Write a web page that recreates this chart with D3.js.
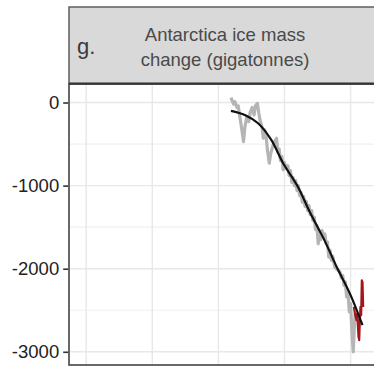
<!DOCTYPE html>
<html>
<head>
<meta charset="utf-8">
<script src="https://cdn.jsdelivr.net/npm/d3@7"></script>
<style>
  html, body { margin: 0; padding: 0; background: #fff; }
  svg { display: block; font-family: "Liberation Sans", Arial, sans-serif; }
</style>
</head>
<body>
<svg id="chart" width="374" height="367"></svg>
<script>
// Satellite record of Antarctic ice mass (Gt, relative)
const obsYears = [2001.9, 2002.1, 2002.3, 2002.5, 2002.8, 2003.0, 2003.2, 2003.5, 2003.8, 2004.0,
  2004.3, 2004.6, 2004.8, 2005.1, 2005.4, 2005.6, 2005.9, 2006.1, 2006.3, 2006.6,
  2006.8, 2007.0, 2007.2, 2007.4, 2007.7, 2007.9, 2008.2, 2008.5, 2008.8, 2009.0,
  2009.2, 2009.4, 2009.6, 2009.8, 2010.0, 2010.2, 2010.5, 2010.7, 2010.9, 2011.1,
  2011.3, 2011.5, 2011.7, 2011.9, 2012.1, 2012.3, 2012.5, 2012.7, 2012.9, 2013.1,
  2013.3, 2013.5, 2013.7, 2013.9, 2014.1, 2014.3, 2014.5, 2014.7, 2014.9, 2015.1,
  2015.3, 2015.5, 2015.7, 2015.9, 2016.1, 2016.3, 2016.5, 2016.7, 2016.9, 2017.1,
  2017.3, 2017.6, 2018.4, 2018.6, 2018.8, 2019.0, 2019.2, 2019.4, 2019.6, 2019.8,
  2020.0, 2020.2, 2020.4, 2020.6, 2020.7];
const obsValues = [60, 20, -20, 10, -60, -40, -150, -300, -470, -300,
  -170, -230, -120, -60, -150, -40, -10, -120, -210, -300,
  -430, -330, -380, -560, -730, -620, -530, -470, -430, -600,
  -560, -700, -650, -810, -720, -790, -760, -880, -820, -960,
  -900, -1000, -940, -1060, -1000, -1120, -1080, -1200, -1130, -1250,
  -1190, -1300, -1240, -1350, -1300, -1420, -1380, -1530, -1480, -1700,
  -1560, -1650, -1540, -1610, -1580, -1700, -1680, -1860, -1780, -1900,
  -1850, -1980, -2040, -2110, -2080, -2200, -2160, -2340, -2280, -2520,
  -2420, -2760, -3000, -2650, -2540];

// Most recent stretch of the record, highlighted
const recentYears = [2020.5, 2020.7, 2020.9, 2021.0, 2021.2, 2021.3, 2021.4, 2021.5, 2021.6, 2021.7, 2021.8, 2021.9];
const recentValues = [-2460, -2560, -2620, -2540, -2820, -2860, -2620, -2460, -2560, -2140, -2160, -2460];

// Smoothed trend
const trendYears = [2001.9, 2004, 2006, 2008, 2009.8, 2012, 2013.9, 2016, 2017.9, 2019.9, 2021.8];
const trendValues = [-100, -150, -250, -450, -730, -1010, -1330, -1650, -1980, -2300, -2680];

const yTicks = [0, -1000, -2000, -3000];
const yMinor = [-500, -1500, -2500];
const xGrid = [1980, 1990, 2000, 2010, 2020];
const panelLetter = "g.";
const titleLines = ["Antarctica ice mass", "change (gigatonnes)"];

const svg = d3.select("#chart");
const P = { left: 69, right: 381, top: 84, bottom: 365, stripTop: 7 };

const x = d3.scaleLinear().domain([1977.4, 2024.6]).range([P.left, P.right]);
const y = d3.scaleLinear().domain([-3159, 223]).range([P.bottom, P.top]);

// panel background
svg.append("rect").attr("x", P.left).attr("y", P.top)
  .attr("width", P.right - P.left).attr("height", P.bottom - P.top).attr("fill", "#fff");

// grid
const grid = svg.append("g");
grid.selectAll("line.minor").data(yMinor).join("line")
  .attr("x1", P.left).attr("x2", P.right)
  .attr("y1", d => y(d)).attr("y2", d => y(d))
  .attr("stroke", "#f0f0f0").attr("stroke-width", 1.2);
grid.selectAll("line.hmaj").data(yTicks).join("line")
  .attr("x1", P.left).attr("x2", P.right)
  .attr("y1", d => y(d)).attr("y2", d => y(d))
  .attr("stroke", "#e8e8e8").attr("stroke-width", 1.4);
grid.selectAll("line.vmaj").data(xGrid).join("line")
  .attr("y1", P.top).attr("y2", P.bottom)
  .attr("x1", d => x(d)).attr("x2", d => x(d))
  .attr("stroke", "#e8e8e8").attr("stroke-width", 1.4);

// series
const line = (xs, vs, curve) => d3.line().curve(curve)
  .x((d, i) => x(xs[i])).y(d => y(d))(vs);

svg.append("path").attr("d", line(obsYears, obsValues, d3.curveLinear))
  .attr("fill", "none").attr("stroke", "#b5b5b5").attr("stroke-width", 3.2)
  .attr("stroke-linejoin", "round");
svg.append("path").attr("d", line(recentYears, recentValues, d3.curveLinear))
  .attr("fill", "none").attr("stroke", "#a3161a").attr("stroke-width", 2.2)
  .attr("stroke-linejoin", "round");
svg.append("path").attr("d", line(trendYears, trendValues, d3.curveCatmullRom))
  .attr("fill", "none").attr("stroke", "#111").attr("stroke-width", 2.2);

// panel border
svg.append("rect").attr("x", P.left).attr("y", P.top)
  .attr("width", P.right - P.left).attr("height", P.bottom - P.top)
  .attr("fill", "none").attr("stroke", "#444").attr("stroke-width", 1.6);

// strip
svg.append("rect").attr("x", P.left).attr("y", P.stripTop)
  .attr("width", P.right - P.left).attr("height", P.top - P.stripTop)
  .attr("fill", "#d9d9d9").attr("stroke", "#555").attr("stroke-width", 1.4);
svg.append("line").attr("x1", P.left).attr("x2", P.right)
  .attr("y1", P.top - 0.5).attr("y2", P.top - 0.5)
  .attr("stroke", "#333").attr("stroke-width", 2);

svg.append("text").attr("x", 77).attr("y", 54)
  .attr("font-size", 22).attr("fill", "#3a3a3a").text(panelLetter);
svg.append("text").attr("text-anchor", "middle").attr("font-size", 18.5).attr("fill", "#4a4a4a")
  .selectAll("tspan").data(titleLines).join("tspan")
  .attr("x", (P.left + P.right) / 2).attr("y", (d, i) => 40.5 + i * 25.5).text(d => d);

// y axis (plain hyphen-minus in labels)
const yAxis = d3.axisLeft(y).tickValues(yTicks).tickSize(5).tickPadding(4).tickFormat(d => String(d));
const ga = svg.append("g").attr("transform", `translate(${P.left - 0.8},0)`).call(yAxis);
ga.select(".domain").remove();
ga.selectAll(".tick line").attr("stroke", "#333").attr("stroke-width", 1.6);
ga.selectAll(".tick text").attr("font-size", 18.5).attr("fill", "#222")
  .attr("font-family", "Liberation Sans, Arial, sans-serif");
</script>
</body>
</html>
